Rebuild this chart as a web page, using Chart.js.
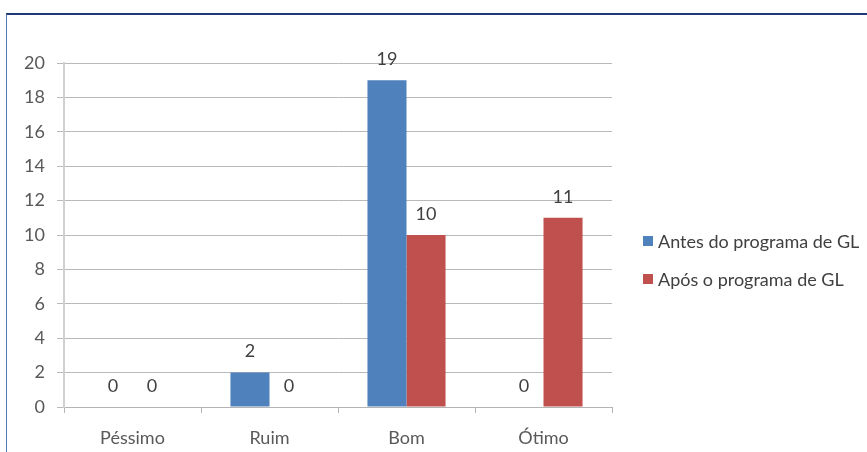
<!DOCTYPE html>
<html>
<head>
<meta charset="utf-8">
<script src="https://cdn.jsdelivr.net/npm/chart.js@4/dist/chart.umd.min.js"></script>
<style>
  html, body { margin: 0; padding: 0; background: #fff; overflow: hidden; }
  #wrap { position: relative; width: 867px; height: 452px; }
  #frame {
    position: absolute; left: 6px; top: 13px; width: 900px; height: 500px;
    border-top: 2px solid #1f3a77; border-left: 1px solid #5575b0;
  }
  #chart { position: absolute; left: 0; top: 0; }
  #legend { position: absolute; left: 643px; top: 222px; font-family: Lato, sans-serif; font-size: 18px; color: #404040; }
  .item { display: flex; align-items: center; height: 38px; }
  .box { width: 10px; height: 10px; margin-right: 5px; }
</style>
</head>
<body>
<div id="wrap">
  <div id="frame"></div>
  <canvas id="chart" width="867" height="452"></canvas>
  <div id="legend"></div>
</div>
<script>
const categories = ['Péssimo', 'Ruim', 'Bom', 'Ótimo'];
const seriesNames = ['Antes do programa de GL', 'Após o programa de GL'];
const antes = [0, 2, 19, 0];
const apos = [0, 0, 10, 11];
const yTicks = [0, 2, 4, 6, 8, 10, 12, 14, 16, 18, 20];
const colors = ['#4f81bd', '#c0504d'];

const FONT = 'Lato, sans-serif';

// Value labels above each bar
const valueLabels = {
  id: 'valueLabels',
  afterDatasetsDraw(chart) {
    const ctx = chart.ctx;
    ctx.save();
    ctx.font = '18px ' + FONT;
    ctx.fillStyle = '#404040';
    ctx.textAlign = 'center';
    ctx.textBaseline = 'middle';
    chart.data.datasets.forEach((ds, i) => {
      chart.getDatasetMeta(i).data.forEach((bar, j) => {
        ctx.fillText(String(ds.data[j]), bar.x, bar.y - 21);
      });
    });
    ctx.restore();
  }
};

new Chart(document.getElementById('chart'), {
  type: 'bar',
  data: {
    labels: categories,
    datasets: [
      { label: seriesNames[0], data: antes, backgroundColor: colors[0] },
      { label: seriesNames[1], data: apos, backgroundColor: colors[1] }
    ]
  },
  options: {
    responsive: false,
    animation: false,
    layout: { padding: { left: 0, right: 255, top: 63, bottom: 0 } },
    plugins: { legend: { display: false }, tooltip: { enabled: false } },
    datasets: { bar: { categoryPercentage: 0.57, barPercentage: 1.0 } },
    scales: {
      x: {
        afterFit(s) { s.height = 45; },
        grid: { drawOnChartArea: false, drawTicks: true, tickLength: 6, color: '#b4b4b4', offset: true },
        border: { color: '#b4b4b4', width: 1 },
        ticks: { font: { family: FONT, size: 18 }, color: '#595959', padding: 14 }
      },
      y: {
        min: 0, max: 20,
        afterFit(s) { s.width = 64; },
        afterBuildTicks(s) { s.ticks = yTicks.map(v => ({ value: v })); },
        grid: { color: '#b9b9b9', lineWidth: 1, tickLength: 7, drawTicks: true },
        border: { color: '#d0d0d0', width: 2 },
        ticks: { font: { family: FONT, size: 18 }, color: '#595959', padding: 12 }
      }
    }
  },
  plugins: [valueLabels]
});

// Legend entries built from the series
const legend = document.getElementById('legend');
seriesNames.forEach((name, i) => {
  const item = document.createElement('div');
  item.className = 'item';
  const box = document.createElement('span');
  box.className = 'box';
  box.style.background = colors[i];
  const txt = document.createElement('span');
  txt.textContent = name;
  item.appendChild(box);
  item.appendChild(txt);
  legend.appendChild(item);
});
</script>
</body>
</html>
